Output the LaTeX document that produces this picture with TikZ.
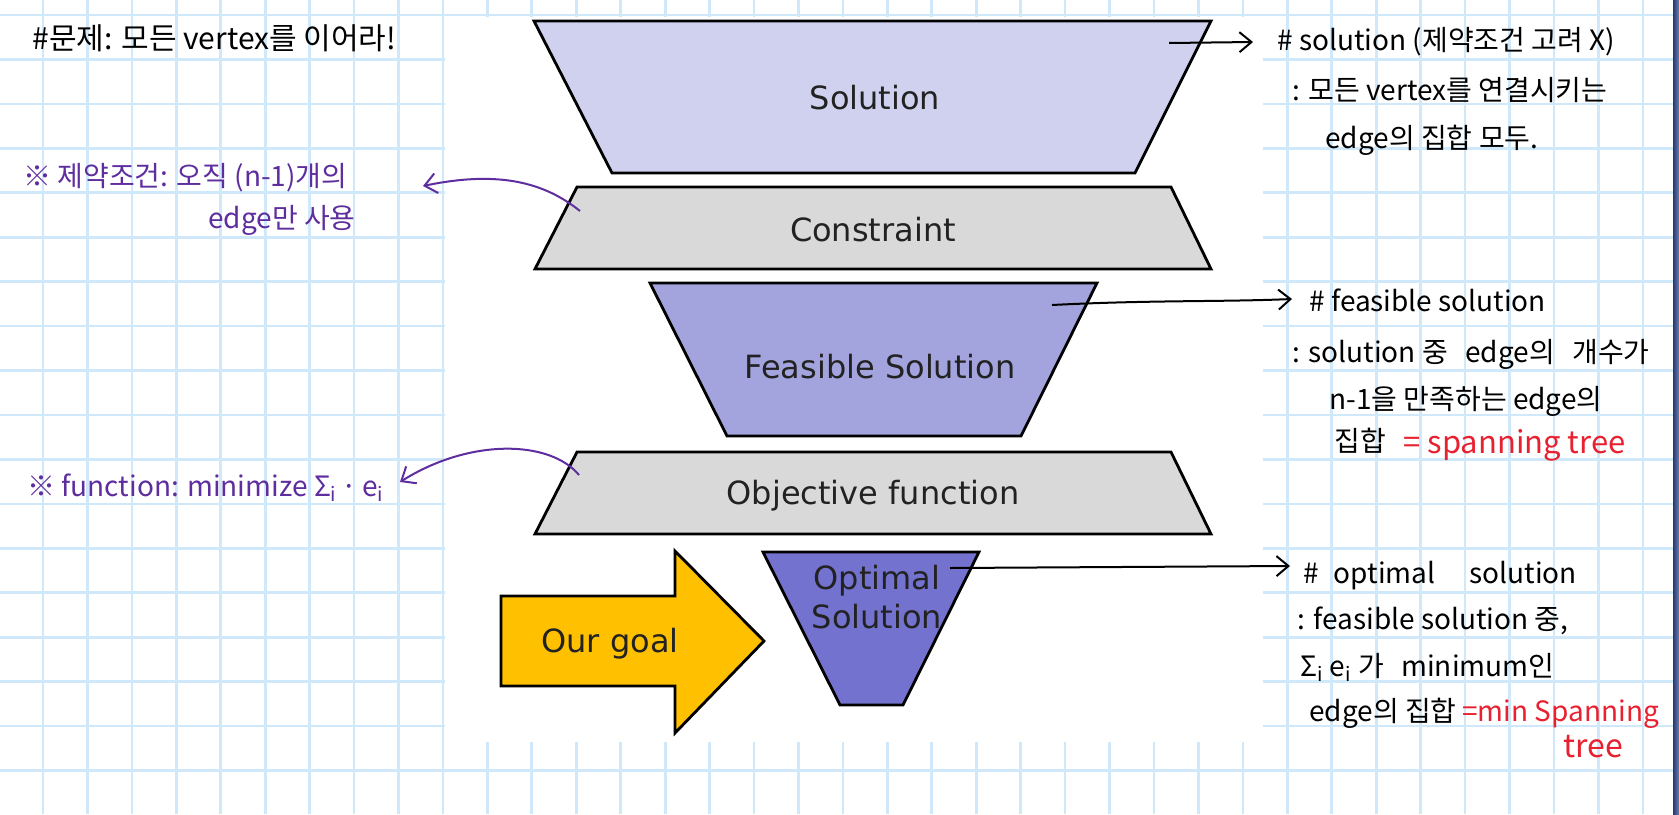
\documentclass[tikz,border=0pt]{standalone}
\usepackage{fontspec}
\setmainfont{DejaVu Sans}
\newfontfamily\kr{Noto Sans CJK KR}
\usetikzlibrary{arrows.meta}
\definecolor{gridblue}{HTML}{CFE9FB}
\definecolor{solfill}{HTML}{D0D1EE}
\definecolor{confill}{HTML}{D9D9D9}
\definecolor{feafill}{HTML}{A3A3DE}
\definecolor{optfill}{HTML}{7373CF}
\definecolor{goalfill}{HTML}{FFC000}
\definecolor{pen}{HTML}{5E2E9E}
\definecolor{redpen}{HTML}{E8202F}
\definecolor{txt}{HTML}{222222}
\definecolor{navy}{HTML}{2B4A8A}
\begin{document}
\begin{tikzpicture}[x=0.5pt,y=-0.5pt,
  funnel/.style={draw=black,line width=1.4pt,line join=miter},
  boxtext/.style={font=\fontsize{16}{19.5}\selectfont,text=txt,inner sep=0pt,align=center},
  annot/.style={font=\kr\fontsize{14}{17}\selectfont,anchor=west,inner sep=0pt,text height=0.8em,text depth=0.2em},
  blackarrow/.style={draw=black,line width=1pt,-{Straight Barb[length=6pt,width=10pt]}},
  purplearrow/.style={draw=pen,line width=1pt,-{Straight Barb[length=6pt,width=10pt]}}
]
\useasboundingbox (0,0) rectangle (1679,814);
\fill[white] (0,0) rectangle (1679,814);
% grid
\foreach \k in {0,...,36} \draw[gridblue,line width=1.35pt] ({43+44.44*\k},0) -- ({43+44.44*\k},814);
\foreach \k in {0,...,17} \draw[gridblue,line width=1.35pt] (0,{15+44.44*\k}) -- (1679,{15+44.44*\k});
% pasted white area
\fill[white] (445,17) rectangle (1263,742);
% right edge strip
\shade[left color=navy!80!black,right color=navy!70!white] (1673,0) rectangle (1679,814);

% funnel shapes
\draw[funnel,fill=solfill] (534,21) -- (1211,21) -- (1135,173) -- (612,173) -- cycle;
\draw[funnel,fill=confill] (577,187) -- (1171,187) -- (1211,269) -- (535,269) -- cycle;
\draw[funnel,fill=feafill] (650,283) -- (1097,283) -- (1021,436) -- (727,436) -- cycle;
\draw[funnel,fill=confill] (577,452) -- (1171,452) -- (1211,534) -- (535,534) -- cycle;
\draw[funnel,fill=optfill] (763,552) -- (979,552) -- (903,705) -- (840,705) -- cycle;
\draw[funnel,fill=goalfill] (501,596) -- (675,596) -- (675,551) -- (764,641) -- (675,733) -- (675,686) -- (501,686) -- cycle;

\node[boxtext] (sol) at (875,98) {Solution};
\node[boxtext] (con) at (873,230) {Constraint};
\node[boxtext] (fea) at (880,367) {Feasible Solution};
\node[boxtext] (obj) at (873,496) {Objective function};
\node[boxtext] (opt) at (877,597) {Optimal\\Solution};
\node[boxtext] (goal) at (610,644) {Our goal};

% left notes
\node[annot,font=\kr\fontsize{15}{18}\selectfont] (n0) at (32,43) {\#문제: 모든 vertex를 이어라!};
\node[annot,text=pen] (p1) at (23,180) {※ 제약조건: 오직 (n-1)개의};
\node[annot,text=pen] (p2) at (208,222) {edge만 사용};
\node[annot,text=pen] (p3) at (27,490) {※ function: minimize Σ\textsubscript{i}\,·\,e\textsubscript{i}};

% right notes
\node[annot] (s1) at (1277,44) {\# solution (제약조건 고려 X)};
\node[annot] (s2) at (1292,94) {: 모든 vertex를 연결시키는};
\node[annot] (s3) at (1325,142) {edge의 집합 모두.};
\node[annot] (f1) at (1309,305) {\# feasible solution};
\node[annot] (f2) at (1292,356) {: solution 중\hspace{0.4em} edge의\hspace{0.4em} 개수가};
\node[annot] (f3) at (1329,403) {n-1을 만족하는 edge의};
\node[annot] (f4) at (1334,445) {집합};
\node[annot,text=redpen,font=\kr\fontsize{15.5}{18}\selectfont] (f5) at (1403,447) {= spanning tree};
\node[annot] (o1) at (1303,577) {\#\hspace{0.3em} optimal\hspace{1em} solution};
\node[annot] (o2) at (1297,623) {: feasible solution 중,};
\node[annot] (o3) at (1300,670) {Σ\textsubscript{i} e\textsubscript{i} 가\hspace{0.4em} minimum인};
\node[annot] (o4) at (1309,715) {edge의 집합};
\node[annot,text=redpen] (o5) at (1462,715) {=min Spanning};
\node[annot,text=redpen,font=\kr\fontsize{16}{18}\selectfont] (o6) at (1563,751) {tree};

% connectors
\coordinate (sA) at (1169,43);
\coordinate (sB) at (1253,42);
\coordinate (fA) at (1052,305);
\coordinate (fB) at (1292,299);
\coordinate (oA) at (950,568);
\coordinate (oB) at (1290,566);
\coordinate (cA) at (580,211);
\coordinate (cB) at (423,186);
\coordinate (bA) at (579,475);
\coordinate (bB) at (400,482);
\draw[blackarrow] (sA) -- (sB);
\draw[blackarrow] (fA) .. controls (1150,300) and (1220,302) .. (fB);
\draw[blackarrow] (oA) -- (oB);
\draw[purplearrow] (cA) .. controls (545,183) and (500,170) .. (cB);
\draw[purplearrow] (bA) .. controls (550,440) and (470,438) .. (bB);
\end{tikzpicture}
\end{document}
